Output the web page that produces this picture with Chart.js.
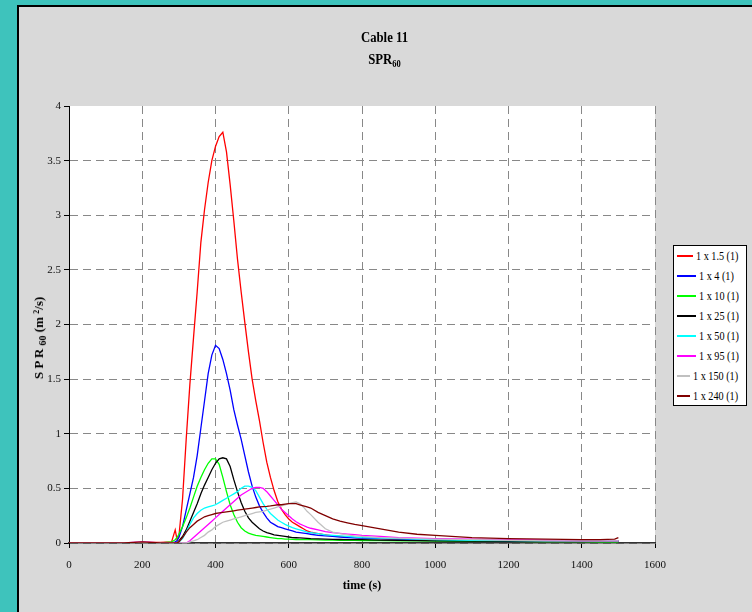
<!DOCTYPE html>
<html>
<head>
<meta charset="utf-8">
<script src="https://cdn.jsdelivr.net/npm/chart.js@4.4.0/dist/chart.umd.min.js"></script>
<style>
  html, body { margin: 0; padding: 0; }
  body { width: 752px; height: 612px; background: #3ec3bc; position: relative; overflow: hidden;
         font-family: "Liberation Serif", "Times New Roman", serif; color: #000; }
  #panel { position: absolute; left: 17px; top: 5px; right: 0; bottom: 0; background: #d9d9d9;
           border-left: 2px solid #000; border-top: 2px solid #000; }
  #chart { position: absolute; left: 0; top: 0; }
  #title { position: absolute; left: 17px; width: 735px; top: 26px; text-align: center;
           font-weight: bold; font-size: 15px; line-height: 22px; transform: scaleX(0.85); }
  .sub { font-size: 10px; position: relative; top: 3px; }
  .sup { font-size: 8px; position: relative; top: -4px; }
  #ytitle { position: absolute; left: 39px; top: 338px; transform: translate(-50%, -50%) rotate(-90deg);
            font-weight: bold; font-size: 13px; white-space: nowrap; }
  #legend { position: absolute; left: 673px; top: 245px; width: 74px; height: 161px; background: #fff;
            border: 1px solid #000; box-sizing: border-box; }
  .item { height: 20px; display: flex; align-items: center; font-size: 12px; white-space: nowrap; }
  .item span:last-child { display: inline-block; transform: scaleX(0.85); transform-origin: left center; }
  .swatch { width: 19px; height: 2px; margin: 0 3px 0 3px; }
</style>
</head>
<body>
<div id="panel"></div>
<canvas id="chart" width="752" height="612"></canvas>
<div id="title">Cable 11<br>SPR<span class="sub">60</span></div>
<div id="ytitle">S P R <span class="sub">60</span> (m <span class="sup">2</span>/s)</div>
<div id="legend"></div>
<script>
const times = [0, 150, 200, 250, 280, 290, 295, 300, 310, 320, 330, 340, 350, 360, 370, 380, 390, 400, 410, 420,
  430, 440, 450, 460, 470, 480, 490, 500, 510, 520, 530, 540, 550, 560, 570, 580, 590, 600, 610, 620,
  630, 640, 650, 660, 680, 700, 720, 740, 760, 780, 800, 850, 900, 950, 1000, 1100, 1200, 1300, 1400, 1450, 1490, 1500];

const labels = ["1 x 1.5 (1)", "1 x 4 (1)", "1 x 10 (1)", "1 x 25 (1)", "1 x 50 (1)", "1 x 95 (1)", "1 x 150 (1)", "1 x 240 (1)"];
const colors = ["#ff0000", "#0000ff", "#00ff00", "#000000", "#00ffff", "#ff00ff", "#c0c0c0", "#800000"];

const s1_5 = [0, 0, 0.005, 0.005, 0.01, 0.12, 0.03, 0.06, 0.4, 0.95, 1.45, 1.88, 2.3, 2.75, 3.05, 3.3, 3.5, 3.63, 3.72, 3.76,
  3.58, 3.28, 2.95, 2.6, 2.3, 2.02, 1.75, 1.5, 1.3, 1.12, 0.92, 0.74, 0.6, 0.48, 0.38, 0.31, 0.26, 0.22, 0.19, 0.17,
  0.15, 0.13, 0.11, 0.1, 0.085, 0.075, 0.065, 0.06, 0.055, 0.05, 0.045, 0.04, 0.035, 0.03, 0.03, 0.025, 0.02, 0.02, 0.02, 0.02, 0.02, 0.02];
const s4 = [0, 0, 0, 0, 0, 0.01, 0.02, 0.05, 0.15, 0.3, 0.45, 0.6, 0.8, 1.05, 1.3, 1.55, 1.72, 1.81, 1.78, 1.68,
  1.55, 1.4, 1.22, 1.08, 0.95, 0.8, 0.65, 0.52, 0.42, 0.34, 0.28, 0.23, 0.19, 0.17, 0.15, 0.14, 0.13, 0.12, 0.11, 0.1,
  0.095, 0.09, 0.085, 0.08, 0.07, 0.065, 0.06, 0.055, 0.05, 0.048, 0.045, 0.04, 0.035, 0.03, 0.03, 0.025, 0.02, 0.02, 0.02, 0.02, 0.02, 0.02];
const s10 = [0, 0, 0, 0, 0.01, 0.03, 0.05, 0.08, 0.15, 0.23, 0.32, 0.42, 0.52, 0.6, 0.67, 0.73, 0.77, 0.77, 0.72, 0.6,
  0.47, 0.35, 0.26, 0.19, 0.14, 0.11, 0.09, 0.08, 0.07, 0.065, 0.06, 0.055, 0.05, 0.045, 0.04, 0.04, 0.035, 0.035, 0.033, 0.032,
  0.031, 0.03, 0.03, 0.03, 0.028, 0.027, 0.026, 0.025, 0.025, 0.024, 0.023, 0.022, 0.02, 0.02, 0.018, 0.016, 0.015, 0.013, 0.012, 0.011, 0.01, 0.01];
const s25 = [0, 0, 0, 0, 0, 0, 0, 0.02, 0.06, 0.12, 0.2, 0.28, 0.36, 0.45, 0.53, 0.6, 0.67, 0.73, 0.77, 0.78,
  0.77, 0.7, 0.58, 0.47, 0.37, 0.29, 0.23, 0.19, 0.16, 0.13, 0.11, 0.095, 0.085, 0.075, 0.07, 0.065, 0.06, 0.055, 0.05, 0.048,
  0.046, 0.044, 0.042, 0.04, 0.038, 0.036, 0.034, 0.032, 0.031, 0.03, 0.03, 0.027, 0.025, 0.022, 0.02, 0.018, 0.016, 0.015, 0.015, 0.015, 0.015, 0.015];
const s50 = [0, 0, 0, 0, 0, 0, 0, 0.01, 0.04, 0.1, 0.17, 0.23, 0.27, 0.3, 0.32, 0.33, 0.34, 0.35, 0.37, 0.39,
  0.41, 0.43, 0.45, 0.47, 0.5, 0.52, 0.52, 0.51, 0.48, 0.42, 0.36, 0.31, 0.27, 0.24, 0.21, 0.19, 0.17, 0.155, 0.14, 0.13,
  0.12, 0.11, 0.1, 0.095, 0.085, 0.075, 0.07, 0.065, 0.06, 0.055, 0.05, 0.045, 0.04, 0.035, 0.03, 0.025, 0.022, 0.02, 0.02, 0.02, 0.02, 0.02];
const s95 = [0, 0, 0.01, 0, 0, 0, 0, 0, 0, 0, 0.02, 0.05, 0.08, 0.11, 0.14, 0.17, 0.2, 0.23, 0.26, 0.29,
  0.32, 0.35, 0.38, 0.41, 0.44, 0.46, 0.48, 0.5, 0.51, 0.51, 0.5, 0.47, 0.43, 0.39, 0.35, 0.31, 0.28, 0.25, 0.22, 0.195,
  0.175, 0.16, 0.145, 0.135, 0.12, 0.105, 0.095, 0.088, 0.082, 0.076, 0.07, 0.06, 0.05, 0.045, 0.04, 0.035, 0.03, 0.025, 0.02, 0.02, 0.02, 0.02];
const s150 = [0, 0, 0.005, 0, 0, 0, 0, 0, 0, 0, 0.01, 0.02, 0.03, 0.05, 0.07, 0.1, 0.12, 0.15, 0.17, 0.19,
  0.2, 0.21, 0.22, 0.23, 0.24, 0.25, 0.26, 0.27, 0.28, 0.285, 0.29, 0.3, 0.31, 0.32, 0.33, 0.34, 0.35, 0.36, 0.37, 0.375,
  0.36, 0.33, 0.29, 0.26, 0.19, 0.13, 0.1, 0.085, 0.075, 0.065, 0.06, 0.05, 0.045, 0.04, 0.035, 0.03, 0.025, 0.02, 0.02, 0.02, 0.02, 0.02];
const s240 = [0, 0, 0.01, 0, 0, 0, 0, 0.01, 0.05, 0.1, 0.14, 0.17, 0.2, 0.22, 0.24, 0.25, 0.26, 0.27, 0.275, 0.28,
  0.285, 0.29, 0.295, 0.3, 0.305, 0.31, 0.315, 0.32, 0.325, 0.33, 0.333, 0.336, 0.34, 0.345, 0.35, 0.35, 0.355, 0.36, 0.36, 0.36,
  0.35, 0.34, 0.33, 0.32, 0.28, 0.25, 0.22, 0.2, 0.185, 0.17, 0.16, 0.13, 0.1, 0.08, 0.07, 0.05, 0.04, 0.035, 0.03, 0.03, 0.035, 0.05];

const series = [s1_5, s4, s10, s25, s50, s95, s150, s240];
const xTicks = { min: 0, max: 1600, step: 200 };
const yTicks = { min: 0, max: 4, step: 0.5 };

const font = "'Liberation Serif', 'Times New Roman', serif";

function pts(vals) {
  return times.map((t, i) => ({ x: t, y: vals[i] }));
}

// white plot area behind the grid
const plotBg = {
  id: 'plotBg',
  beforeDraw(chart) {
    const a = chart.chartArea, ctx = chart.ctx;
    ctx.save();
    ctx.fillStyle = '#fff';
    ctx.fillRect(a.left, a.top, a.right - a.left, a.bottom - a.top);
    ctx.restore();
  }
};

const chart = new Chart(document.getElementById('chart'), {
  type: 'line',
  data: {
    datasets: series.map((vals, i) => ({
      label: labels[i],
      data: pts(vals),
      borderColor: colors[i],
      backgroundColor: colors[i],
      borderWidth: 1.3,
      pointRadius: 0,
      tension: 0,
      order: series.length - 1 - i
    }))
  },
  options: {
    responsive: false,
    animation: false,
    layout: { padding: { top: 106, right: 97, left: 0, bottom: 0 } },
    plugins: { legend: { display: false }, title: { display: false }, tooltip: { enabled: false } },
    scales: {
      x: {
        type: 'linear', min: xTicks.min, max: xTicks.max,
        ticks: { stepSize: xTicks.step, color: '#111', font: { family: font, size: 11 }, padding: 11, maxRotation: 0,
                 callback: v => String(v) },
        grid: { color: '#888', tickColor: '#000', tickLength: 5 },
        border: { color: '#333', width: 1.5, dash: [8, 5] },
        title: { display: true, text: 'time (s)', color: '#000', font: { family: font, size: 12, weight: 'bold' }, padding: { top: 0, bottom: 19 } },
        afterFit(s) { s.height = 69; }
      },
      y: {
        type: 'linear', min: yTicks.min, max: yTicks.max,
        ticks: { stepSize: yTicks.step, color: '#111', font: { family: font, size: 11 }, padding: 3,
                 callback: v => String(v) },
        grid: { color: c => (c.tick && c.tick.value === yTicks.max) ? 'rgba(0,0,0,0)' : '#888', tickColor: '#000', tickLength: 5 },
        border: { color: '#000', width: 1, dash: [8, 5] },
        afterFit(s) { s.width = 69; }
      }
    }
  },
  plugins: [plotBg]
});

// legend built from the chart's datasets
const legendBox = document.getElementById('legend');
chart.data.datasets.forEach(ds => {
  const row = document.createElement('div');
  row.className = 'item';
  const sw = document.createElement('span');
  sw.className = 'swatch';
  sw.style.background = ds.borderColor;
  const txt = document.createElement('span');
  txt.textContent = ds.label;
  row.append(sw, txt);
  legendBox.appendChild(row);
});
</script>
</body>
</html>
